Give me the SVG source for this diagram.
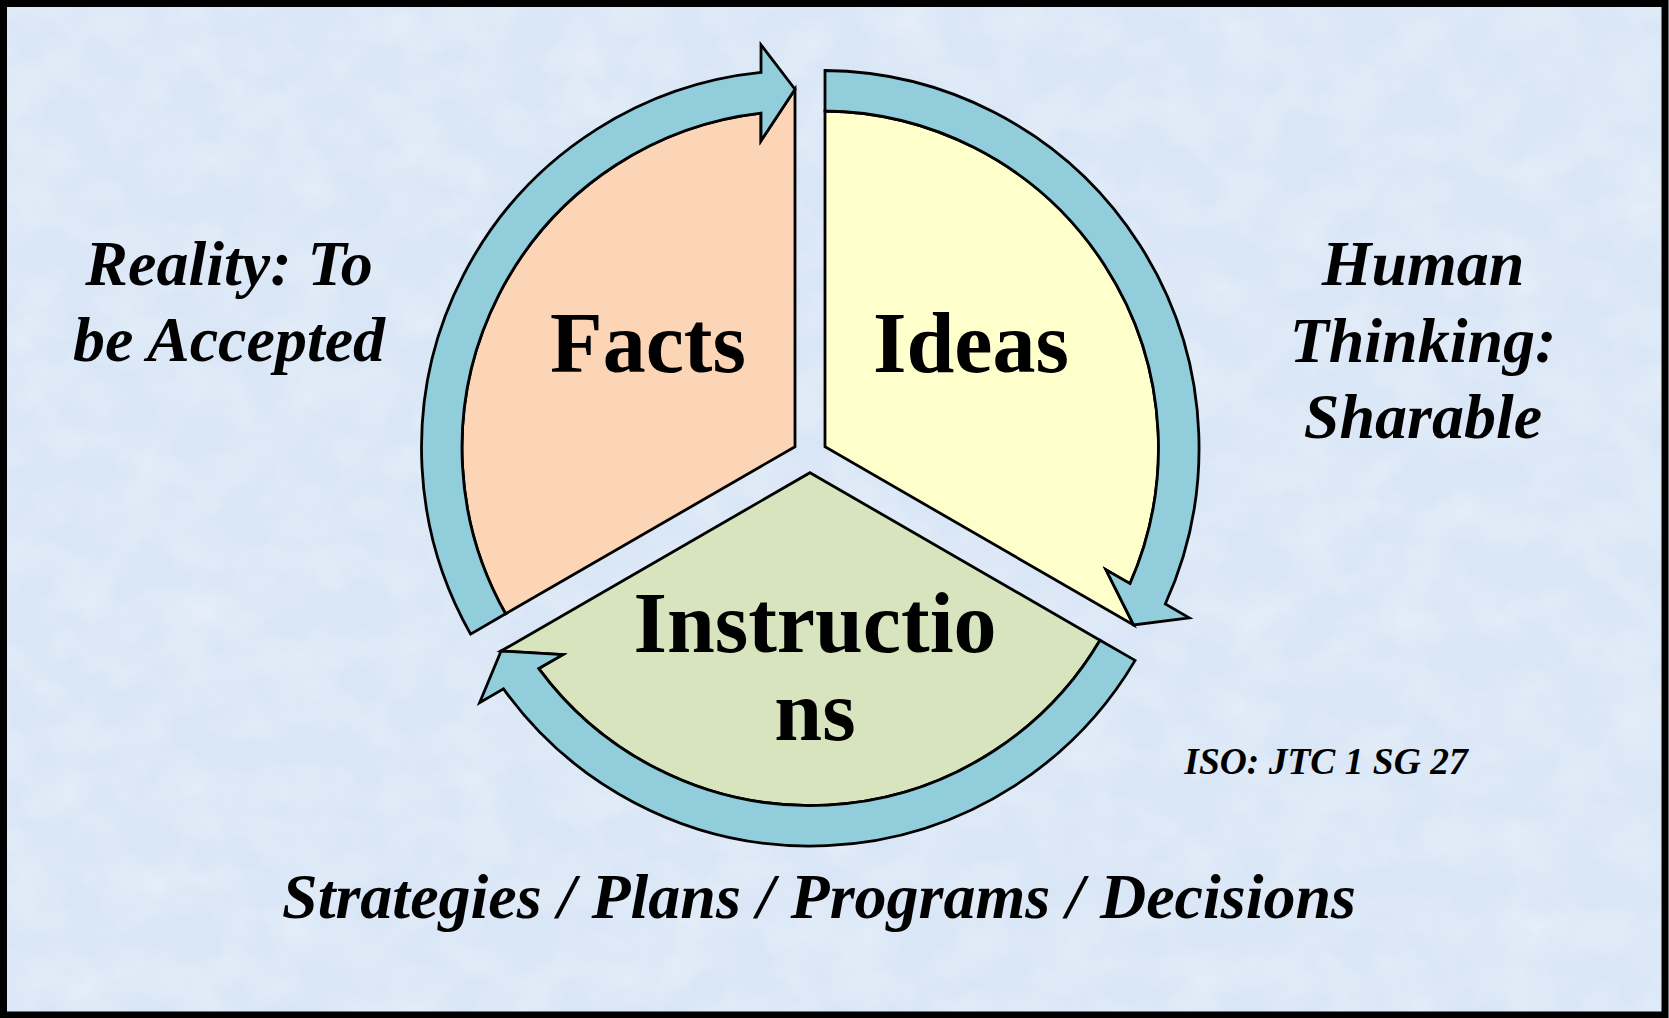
<svg xmlns="http://www.w3.org/2000/svg" width="1669" height="1018" viewBox="0 0 1669 1018">
  <defs>
    <filter id="tex" x="0" y="0" width="100%" height="100%">
      <feTurbulence type="fractalNoise" baseFrequency="0.018 0.022" numOctaves="4" seed="7" result="n"/>
      <feColorMatrix in="n" type="matrix" values="0 0 0 0 1  0 0 0 0 1  0 0 0 0 1  0.9 0 0 0 -0.3"/>
    </filter>
    <style>
      .seg { stroke: #000; stroke-width: 2.8; stroke-linejoin: miter; }
      .arrow { fill: #92CDDC; stroke: #000; stroke-width: 2.8; stroke-linejoin: miter; stroke-miterlimit: 10; }
      .big { font-family: "Liberation Serif", "Times New Roman", serif; font-weight: bold; font-size: 86px; fill: #000; text-anchor: middle; }
      .side { font-family: "Liberation Serif", "Times New Roman", serif; font-weight: bold; font-style: italic; font-size: 64px; fill: #000; text-anchor: middle; }
      .foot { font-family: "Liberation Serif", "Times New Roman", serif; font-weight: bold; font-style: italic; font-size: 64px; fill: #000; text-anchor: middle; }
      .small { font-family: "Liberation Serif", "Times New Roman", serif; font-weight: bold; font-style: italic; font-size: 37.5px; fill: #000; text-anchor: middle; }
    </style>
  </defs>

  <!-- background -->
  <rect x="0" y="0" width="1669" height="1018" fill="#D9E6F6"/>
  <rect x="0" y="0" width="1669" height="1018" filter="url(#tex)" opacity="0.6"/>
  <rect x="3.5" y="3.5" width="1661.5" height="1011.5" fill="none" stroke="#000" stroke-width="7"/>

  <!-- sectors -->
  <g id="node-facts">
    <path class="seg" fill="#FBD5B5" d="M795,446.7 L505.6,613.8 A337,337 0 0 1 761,113.15 L761,140.8 L795,89.2 Z"/>
  </g>
  <g id="node-ideas">
    <path class="seg" fill="#FFFFCC" d="M825,111 L825,446.7 L1133.6,625 L1106,569.8 L1130,583.6 A337,337 0 0 0 825,111 Z"/>
  </g>
  <g id="node-instructions">
    <path class="seg" fill="#D7E4BD" d="M810,472.7 L1100,640.2 A337,337 0 0 1 538.8,668.55 L562.8,654.7 L501.1,651 Z"/>
  </g>

  <!-- circular arrows -->
  <g id="connectors">
    <path class="arrow" d="M505.6,613.8 L470.6,634.1 A377.5,377.5 0 0 1 761,72.4 L761,44.8 L795,89.2 L761,140.8 L761,113.15 A337,337 0 0 0 505.6,613.8 Z"/>
    <path class="arrow" d="M825,70.5 A377.5,377.5 0 0 1 1165.3,604 L1189.2,617.8 L1133.6,625 L1106,569.8 L1130,583.6 A337,337 0 0 0 825,111 Z"/>
    <path class="arrow" d="M1100,640.2 L1135.1,660.4 A377.5,377.5 0 0 1 503.5,688.9 L479.6,702.7 L501.1,651 L562.8,654.7 L538.8,668.55 A337,337 0 0 0 1100,640.2 Z"/>
  </g>

  <!-- labels -->
  <g id="labels">
    <text class="big" x="648" y="372">Facts</text>
    <text class="big" x="971" y="372">Ideas</text>
    <text class="big" x="815" y="652">Instructio</text>
    <text class="big" x="815" y="740">ns</text>
    <text class="side" x="229" y="285">Reality: To</text>
    <text class="side" x="229" y="361">be Accepted</text>
    <text class="side" x="1423" y="285">Human</text>
    <text class="side" x="1423" y="362">Thinking:</text>
    <text class="side" x="1423" y="438">Sharable</text>
    <text class="small" x="1326" y="774">ISO: JTC 1 SG 27</text>
    <text class="foot" x="819" y="918">Strategies / Plans / Programs / Decisions</text>
  </g>
</svg>
